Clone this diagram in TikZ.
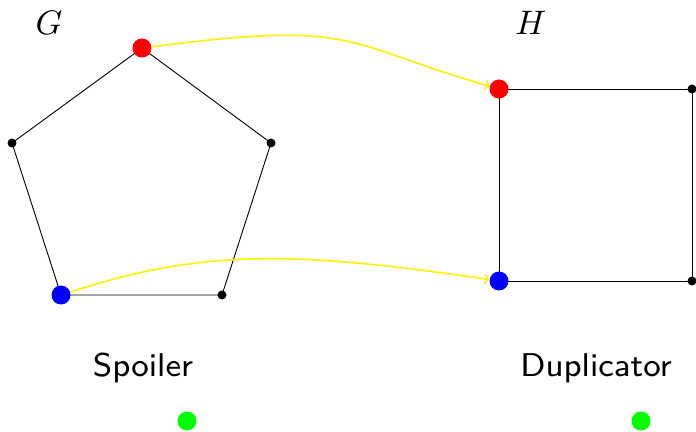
\documentclass[tikz,border=0pt]{standalone}
\usetikzlibrary{arrows.meta}
\begin{document}
\begin{tikzpicture}[x=1pt,y=1pt,
  bigdot/.style={circle,inner sep=0pt,minimum size=19pt},
  smalldot/.style={circle,fill=black,inner sep=0pt,minimum size=9pt},
  edge/.style={draw=black,line width=0.9pt},
  map/.style={draw=yellow,line width=1.6pt,-{To[length=5pt,width=11pt]}},
  lbl/.style={inner sep=0pt,font=\sffamily\scriptsize,scale=4.7,anchor=base},
  glbl/.style={inner sep=0pt,scale=3.4}]
\useasboundingbox (0,0) rectangle (696,431);
% graph G
\coordinate (p1) at (142,383);
\coordinate (p2) at (12,288);
\coordinate (p3) at (271,288);
\coordinate (p4) at (61,136);
\coordinate (p5) at (222,136);
% graph H
\coordinate (h1) at (499,342);
\coordinate (h2) at (692,342);
\coordinate (h3) at (499,150);
\coordinate (h4) at (692,150);
\draw[edge] (p1) -- (p2) -- (p4) -- (p5) -- (p3) -- (p1);
\draw[edge] (h1) -- (h2) -- (h4) -- (h3) -- (h1);
\node[bigdot,fill=red] (n1) at (p1) {};
\node[smalldot] (n2) at (p2) {};
\node[smalldot] (n3) at (p3) {};
\node[bigdot,fill=blue] (n4) at (p4) {};
\node[smalldot] (n5) at (p5) {};
\node[bigdot,fill=red] (m1) at (h1) {};
\node[smalldot] (m2) at (h2) {};
\node[bigdot,fill=blue] (m3) at (h3) {};
\node[smalldot] (m4) at (h4) {};
\draw[map] (n1) .. controls (360,411) and (340,388) .. (m1);
\draw[map] (n4) .. controls (200,181) and (289,181) .. (m3);
\node[glbl] (G) at (49,408) {$G$};
\node[glbl] (H) at (531,408) {$H$};
\node[lbl] (S) at (143,55) {Spoiler};
\node[lbl] (D) at (596,55) {Duplicator};
\node[bigdot,fill=green] (gs) at (187,10) {};
\node[bigdot,fill=green] (gd) at (641,10) {};
\end{tikzpicture}
\end{document}
